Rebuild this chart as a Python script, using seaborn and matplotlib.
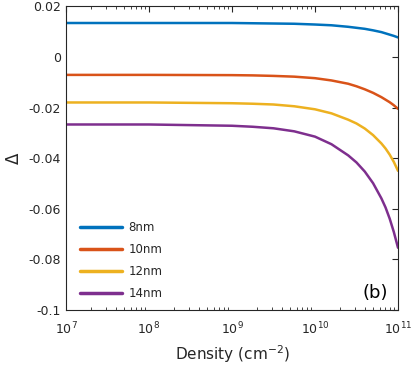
import numpy as np
import pandas as pd
import matplotlib
matplotlib.use("Agg")
import matplotlib.pyplot as plt
import matplotlib.ticker as mticker
import seaborn as sns

density = [1e7, 1e8, 1e9, 1.78e9, 3.16e9, 5.62e9, 1e10, 1.58e10, 2.51e10, 3.16e10,
           3.98e10, 5.01e10, 6.31e10, 7.08e10, 7.94e10, 8.91e10, 1e11]
d8 = [0.0134, 0.0134, 0.0134, 0.0133, 0.0132, 0.0131, 0.0128, 0.0125, 0.0119,
      0.0115, 0.0111, 0.0105, 0.0098, 0.0093, 0.0088, 0.0083, 0.0077]
d10 = [-0.0071, -0.0071, -0.0072, -0.0073, -0.0075, -0.0078, -0.0084, -0.0093,
       -0.0106, -0.0116, -0.0128, -0.0142, -0.0159, -0.0169, -0.0179, -0.0191, -0.0205]
d12 = [-0.0180, -0.0180, -0.0183, -0.0185, -0.0188, -0.0195, -0.0207, -0.0223,
       -0.0248, -0.0263, -0.0283, -0.0309, -0.0342, -0.0362, -0.0386, -0.0415, -0.0450]
d14 = [-0.0267, -0.0267, -0.0272, -0.0276, -0.0282, -0.0294, -0.0315, -0.0345,
       -0.0389, -0.0417, -0.0453, -0.0499, -0.0559, -0.0595, -0.0639, -0.0692, -0.0754]
labels = ["8nm", "10nm", "12nm", "14nm"]
colors = ["#0072BD", "#D95319", "#EDB120", "#7E2F8E"]
yticks = [0.02, 0, -0.02, -0.04, -0.06, -0.08, -0.1]
yticklabels = ["0.02", "0", "-0.02", "-0.04", "-0.06", "-0.08", "-0.1"]

frames = []
for lab, vals in zip(labels, [d8, d10, d12, d14]):
    frames.append(pd.DataFrame({"Density": density, "Delta": vals, "Size": lab}))
df = pd.concat(frames, ignore_index=True)

sns.set_style("white")
plt.rcParams["font.family"] = ["DejaVu Sans"]
plt.rcParams["axes.unicode_minus"] = False

fig = plt.figure(figsize=(4.17, 3.72), dpi=100)
ax = fig.add_axes([66/417, 1-310/372, 332/417, (310-6.3)/372])

sns.lineplot(data=df, x="Density", y="Delta", hue="Size", palette=colors,
             linewidth=1.8, ax=ax, legend=True)

ax.set_xscale("log")
ax.set_xlim(1e7, 1e11)
ax.set_ylim(-0.1, 0.02)
ax.set_yticks(yticks)
ax.set_yticklabels(yticklabels)
ax.xaxis.set_major_locator(mticker.LogLocator(base=10, numticks=10))
ax.xaxis.set_minor_locator(mticker.LogLocator(base=10, subs=np.arange(2, 10), numticks=50))
ax.xaxis.set_minor_formatter(mticker.NullFormatter())

for s in ax.spines.values():
    s.set_color("#262626")
    s.set_linewidth(0.8)
ax.tick_params(axis="both", which="both", direction="in", top=True, right=True,
               colors="#262626", labelcolor="#262626", labelsize=9)
ax.tick_params(axis="both", which="major", length=4)
ax.tick_params(axis="both", which="minor", length=2, bottom=True, top=True)
ax.tick_params(axis="x", pad=8)

ax.set_xlabel("Density (cm$^{-2}$)", fontsize=11, color="#262626")
ax.set_ylabel("Δ", fontsize=12, color="#262626", labelpad=4)

leg = ax.legend(loc="lower left", bbox_to_anchor=(0.006, -0.006), frameon=False,
                fontsize=8.5, handlelength=3.6, labelspacing=0.75, borderaxespad=0.6,
                handletextpad=0.5)
for line in leg.get_lines():
    line.set_linewidth(2.5)

ax.text(0.97, 0.057, "(b)", transform=ax.transAxes, ha="right", va="center",
        fontsize=13, color="#000000")

fig.savefig("out.png", dpi=100)
